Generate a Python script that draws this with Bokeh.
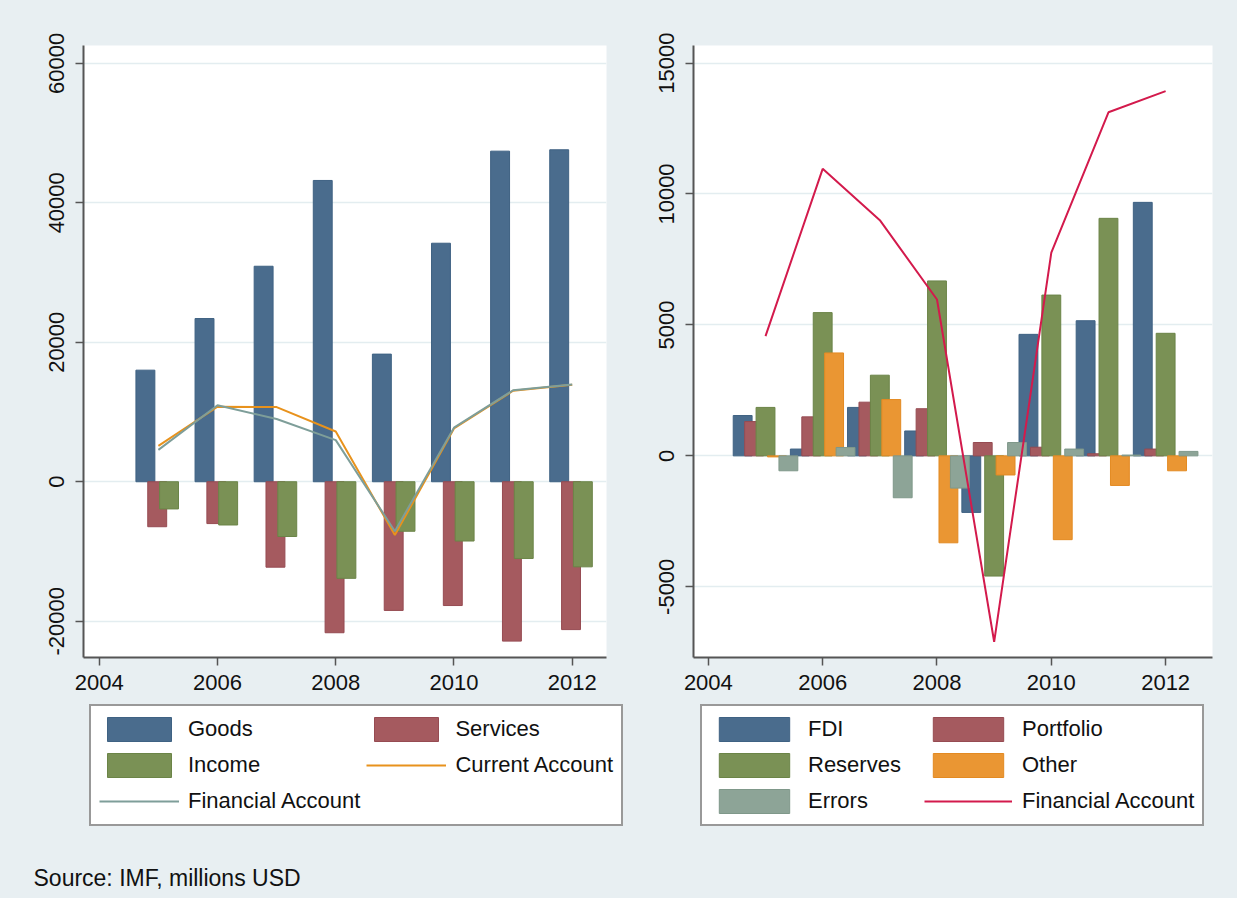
import math
from bokeh.plotting import figure
from bokeh.models import (ColumnDataSource, Legend, LegendItem, Label, FixedTicker,
                          Range1d, NumeralTickFormatter)
from bokeh.layouts import row, column
from bokeh.transform import dodge
from bokeh.embed import file_html
from bokeh.resources import INLINE

# ---------------- data ----------------
years = [2005, 2006, 2007, 2008, 2009, 2010, 2011, 2012]

goods = [16000, 23400, 30900, 43200, 18300, 34200, 47400, 47600]
services = [-6450, -6000, -12250, -21650, -18450, -17750, -22850, -21200]
income = [-3900, -6200, -7850, -13850, -7100, -8500, -11000, -12200]
current_account = [5150, 10750, 10700, 7200, -7650, 7650, 13050, 13900]
financial_account = [4570, 10960, 9000, 5970, -7100, 7760, 13120, 13930]

fdi = [1540, 260, 1850, 950, -2160, 4640, 5160, 9680]
portfolio = [1310, 1490, 2050, 1800, 510, 330, 80, 260]
reserves = [1850, 5470, 3080, 6680, -4590, 6140, 9070, 4680]
other = [-40, 3930, 2150, -3320, -730, -3200, -1130, -570]
errors = [-570, 320, -1600, -1230, 510, 260, 30, 170]

x_ticks = [2004, 2006, 2008, 2010, 2012]
left_y_ticks = [-20000, 0, 20000, 40000, 60000]
right_y_ticks = [-5000, 0, 5000, 10000, 15000]

left_legend_labels = ["Goods", "Services", "Income", "Current Account", "Financial Account"]
right_legend_labels = ["FDI", "Portfolio", "Reserves", "Other", "Errors", "Financial Account"]
source_text = "Source: IMF, millions USD"

# ---------------- style ----------------
BG = "#E8EFF2"
FONT = "Liberation Sans"
NAVY, NAVY_L = "#4A6C8D", "#3F6283"
MAROON, MAROON_L = "#A55A5F", "#964B52"
GREEN, GREEN_L = "#7A9155", "#6B8447"
ORANGE, ORANGE_L = "#EA9633", "#E38A22"
TEAL, TEAL_L = "#8DA497", "#7F988A"
CA_LINE = "#E8921C"
FA_LINE_L = "#7E9E99"
FA_LINE_R = "#D31A4C"

BAR_STYLES = {
    "navy": dict(fill_color=NAVY, line_color=NAVY_L, line_width=1),
    "maroon": dict(fill_color=MAROON, line_color=MAROON_L, line_width=1),
    "green": dict(fill_color=GREEN, line_color=GREEN_L, line_width=1),
    "orange": dict(fill_color=ORANGE, line_color=ORANGE_L, line_width=1),
    "teal": dict(fill_color=TEAL, line_color=TEAL_L, line_width=1),
}

PLOT_H = 700
LEG_H = 198


def style(p, yticks):
    p.background_fill_color = "white"
    p.border_fill_color = BG
    p.outline_line_color = None
    p.xgrid.visible = False
    p.ygrid.ticker = FixedTicker(ticks=yticks)
    p.ygrid.grid_line_color = "#E3EDF0"
    p.ygrid.grid_line_width = 1.5
    for ax in (p.xaxis[0], p.yaxis[0]):
        ax.axis_line_color = "#555555"
        ax.axis_line_width = 2
        ax.major_tick_line_color = "#555555"
        ax.major_tick_line_width = 1.5
        ax.major_tick_out = 8
        ax.major_tick_in = 0
        ax.minor_tick_line_color = None
        ax.major_label_text_font = FONT
        ax.major_label_text_font_size = "22px"
        ax.major_label_text_color = "#111111"
        ax.formatter = NumeralTickFormatter(format="0")
    p.xaxis.major_label_standoff = 9
    p.yaxis.major_label_standoff = 11
    p.xaxis.ticker = FixedTicker(ticks=x_ticks)
    p.yaxis.ticker = FixedTicker(ticks=yticks)
    p.yaxis.major_label_overrides = {t: str(t) for t in yticks}
    p.xaxis.major_label_overrides = {t: str(t) for t in x_ticks}
    p.yaxis.major_label_orientation = "parallel"


def legend_figure(width):
    f = figure(width=width, height=LEG_H, x_range=Range1d(0, 1), y_range=Range1d(0, 1),
               x_axis_type=None, y_axis_type=None, output_backend="svg",
               toolbar_location=None, min_border=0, min_border_left=0,
               min_border_right=0, min_border_top=0, min_border_bottom=0)
    f.background_fill_color = BG
    f.border_fill_color = BG
    f.outline_line_color = None
    f.grid.visible = False
    try:
        f.frame_align = False
    except Exception:
        pass
    return f


def make_legend(items, loc, glyph_w, standoff, label_w):
    return Legend(items=items, location=loc, orientation="horizontal", ncols=2,
                  border_line_color="#333333", border_line_width=2,
                  background_fill_color="white", background_fill_alpha=1.0,
                  label_text_font=FONT, label_text_font_size="22px",
                  label_text_color="#111111",
                  glyph_width=glyph_w, glyph_height=30, label_height=24,
                  label_standoff=standoff, label_width=label_w,
                  spacing=6, padding=8, margin=0)


# ---------------- left panel ----------------
p1 = figure(width=630, height=PLOT_H, x_range=Range1d(2003.733, 2012.58),
            y_range=Range1d(-25200, 62550), output_backend="svg",
            toolbar_location=None, min_border_left=83, min_border_right=24,
            min_border_top=45, min_border_bottom=43)
style(p1, left_y_ticks)

s1 = ColumnDataSource(dict(year=years, goods=goods, services=services, income=income,
                           ca=current_account, fa=financial_account))
BW = 0.32
OFF1 = [-0.22, -0.02, 0.18]


def left_marks(f):
    return [
        f.vbar(x=dodge("year", OFF1[0]), top="goods", bottom=0, width=BW, source=s1, **BAR_STYLES["navy"]),
        f.vbar(x=dodge("year", OFF1[1]), top="services", bottom=0, width=BW, source=s1, **BAR_STYLES["maroon"]),
        f.vbar(x=dodge("year", OFF1[2]), top="income", bottom=0, width=BW, source=s1, **BAR_STYLES["green"]),
        f.line(x="year", y="ca", source=s1, line_color=CA_LINE, line_width=2),
        f.line(x="year", y="fa", source=s1, line_color=FA_LINE_L, line_width=2),
    ]


left_marks(p1)

# legend strip (its renderers share the data but lie outside its view)
l1 = legend_figure(630)
k1 = left_marks(l1)
l1.add_layout(make_legend([LegendItem(label=l, renderers=[r]) for l, r in
                           zip(left_legend_labels, k1)], (89, 72), 80, 9, 20), "center")
l1.add_layout(Label(x=33, y=21, x_units="screen", y_units="screen", text=source_text,
                    text_font=FONT, text_font_size="23px", text_color="#111111",
                    text_baseline="alphabetic"))

# ---------------- right panel ----------------
p2 = figure(width=607, height=PLOT_H, x_range=Range1d(2003.74, 2012.82),
            y_range=Range1d(-7700, 15670), output_backend="svg",
            toolbar_location=None, min_border_left=63, min_border_right=25,
            min_border_top=45, min_border_bottom=43)
style(p2, right_y_ticks)

s2 = ColumnDataSource(dict(year=years, fdi=fdi, portfolio=portfolio, reserves=reserves,
                           other=other, errors=errors, fa=financial_account))
BW2 = 0.33


def right_marks(f):
    return [
        f.vbar(x=dodge("year", -0.4), top="fdi", bottom=0, width=BW2, source=s2, **BAR_STYLES["navy"]),
        f.vbar(x=dodge("year", -0.2), top="portfolio", bottom=0, width=BW2, source=s2, **BAR_STYLES["maroon"]),
        f.vbar(x=dodge("year", 0.0), top="reserves", bottom=0, width=BW2, source=s2, **BAR_STYLES["green"]),
        f.vbar(x=dodge("year", 0.2), top="other", bottom=0, width=BW2, source=s2, **BAR_STYLES["orange"]),
        f.vbar(x=dodge("year", 0.4), top="errors", bottom=0, width=BW2, source=s2, **BAR_STYLES["teal"]),
        f.line(x="year", y="fa", source=s2, line_color=FA_LINE_R, line_width=2),
    ]


right_marks(p2)

l2 = legend_figure(607)
k2 = right_marks(l2)
l2.add_layout(make_legend([LegendItem(label=l, renderers=[r]) for l, r in
                           zip(right_legend_labels, k2)], (70, 72), 88, 10, 110), "center")

layout = row(column(p1, l1, spacing=0, styles={"background-color": BG}),
             column(p2, l2, spacing=0, styles={"background-color": BG}),
             spacing=0, styles={"background-color": BG})
open("out.html", "w").write(file_html(layout, INLINE))
